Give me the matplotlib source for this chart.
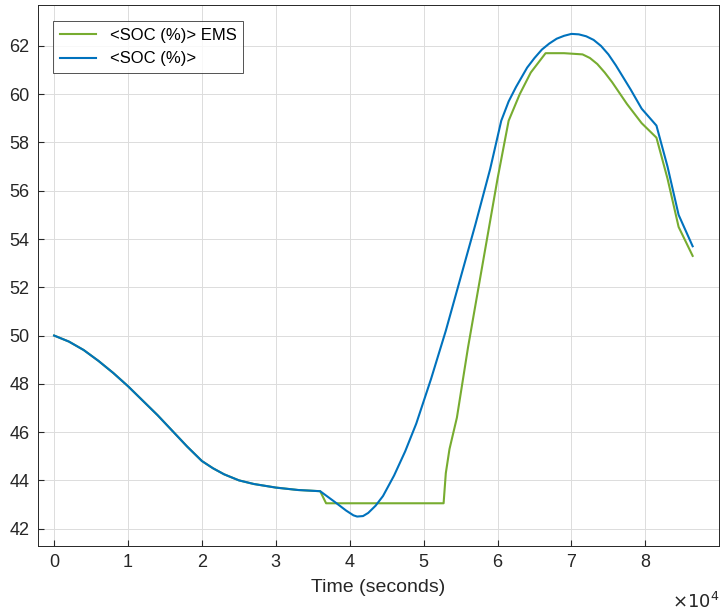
import matplotlib.pyplot as plt

plt.rcParams['font.family'] = ['Liberation Sans', 'DejaVu Sans']

t_blue = [0, 2000, 4000, 6000, 8000, 10000, 12000, 14000, 16000, 18000, 20000, 21500,
          23000, 25000, 27000, 30000, 33000, 36000,
          38000, 39500, 40500, 41000, 41800, 42500, 43500, 44500, 46000, 47500, 49000,
          51000, 53000, 55000, 57000, 59000, 60500, 61500, 62500, 64000, 65000, 66000,
          67000, 68000, 69000, 70000, 71000, 72000, 73000, 74000, 75000, 76000, 77000,
          78000, 79500, 80500, 81500, 83000, 84500, 86400]
soc_blue = [50.0, 49.75, 49.4, 48.95, 48.45, 47.9, 47.3, 46.7, 46.05, 45.4, 44.8, 44.5,
            44.25, 44.0, 43.85, 43.7, 43.6, 43.55,
            43.1, 42.75, 42.55, 42.5, 42.52, 42.65, 42.95, 43.35, 44.2, 45.2, 46.35,
            48.2, 50.2, 52.4, 54.6, 56.9, 58.9, 59.7, 60.3, 61.1, 61.5, 61.85,
            62.1, 62.3, 62.42, 62.5, 62.48, 62.4, 62.25, 62.0, 61.65, 61.2, 60.7,
            60.2, 59.4, 59.05, 58.7, 57.0, 55.0, 53.7]

t_green = [0, 2000, 4000, 6000, 8000, 10000, 12000, 14000, 16000, 18000, 20000, 21500,
           23000, 25000, 27000, 30000, 33000, 36000,
           36800, 45000, 52700, 53000, 53500, 54500, 56000, 58000, 60000, 61500, 63000,
           64500, 65500, 66500, 69000, 71500, 72500, 73500, 74500, 75500, 76500, 77500,
           78500, 79500, 81500, 83000, 84500, 86400]
soc_green = [50.0, 49.75, 49.4, 48.95, 48.45, 47.9, 47.3, 46.7, 46.05, 45.4, 44.8, 44.5,
             44.25, 44.0, 43.85, 43.7, 43.6, 43.55,
             43.05, 43.05, 43.05, 44.3, 45.3, 46.6, 49.5, 53.0, 56.5, 58.9, 60.0,
             60.9, 61.3, 61.7, 61.7, 61.65, 61.5, 61.25, 60.9, 60.5, 60.05, 59.6,
             59.2, 58.8, 58.2, 56.5, 54.5, 53.3]

fig, ax = plt.subplots(figsize=(7.28, 6.15), dpi=100)
fig.subplots_adjust(left=0.052, right=0.988, top=0.992, bottom=0.113)
ax.plot(t_green, soc_green, color='#77AC30', lw=1.5, label='<SOC (%)> EMS')
ax.plot(t_blue, soc_blue, color='#0072BD', lw=1.5, label='<SOC (%)>')
ax.set_xlim(-2200, 90000)
ax.set_ylim(41.3, 63.7)
ax.set_xticks([i * 10000 for i in range(9)])
ax.set_xticklabels([str(i) for i in range(9)])
ax.set_yticks(range(42, 63, 2))
ax.tick_params(labelsize=13, direction='in', colors='#262626', length=4, pad=6)
ax.grid(color='#dcdcdc', lw=0.7)
ax.set_axisbelow(True)
for s in ax.spines.values():
    s.set_color('#262626')
    s.set_linewidth(0.7)
ax.set_xlabel('Time (seconds)', fontsize=14, color='#262626', labelpad=6)
ax.text(1.0, -0.085, r'$\times10^4$', transform=ax.transAxes, ha='right', va='top',
        fontsize=13, color='#262626')
leg = ax.legend(loc='upper left', bbox_to_anchor=(0.01, 0.985), fontsize=12,
                fancybox=False, edgecolor='#262626', handlelength=2.2, borderpad=0.4)
leg.get_frame().set_linewidth(0.7)
plt.savefig('out.png')
